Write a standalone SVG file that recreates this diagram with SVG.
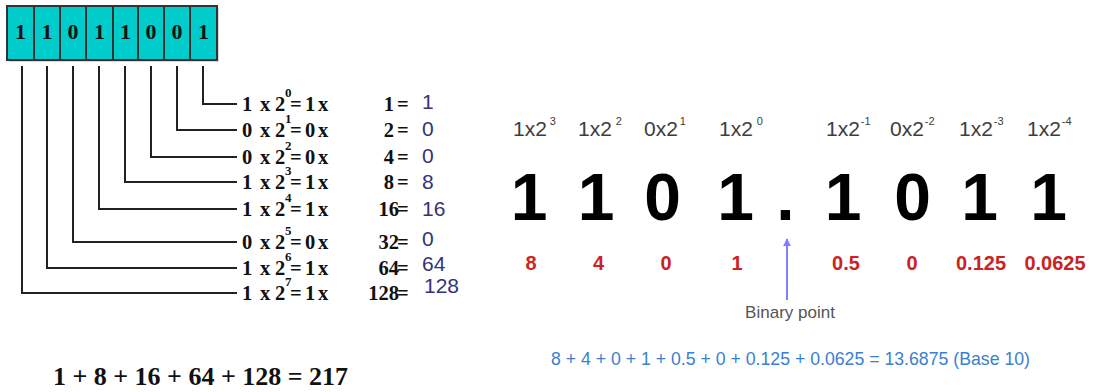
<svg xmlns="http://www.w3.org/2000/svg" width="1097" height="392" viewBox="0 0 1097 392">
<style>
.tb{font-family:"Liberation Serif","Times New Roman",serif;font-weight:bold;fill:#111;}
.row{font-size:20.5px;}
.sup{font-size:13px;}
.val{font-family:"Liberation Sans",Arial,sans-serif;font-weight:normal;font-size:21px;fill:#33337a;}
.cell{fill:#00cccc;stroke:#333;stroke-width:2;}
.bit{font-family:"Liberation Serif","Times New Roman",serif;font-weight:bold;font-size:22px;fill:#111;text-anchor:middle;}
.conn path{fill:none;stroke:#222;stroke-width:2;}
.lbl{font-family:"Liberation Sans",Arial,sans-serif;font-size:21px;fill:#3d3d3d;}
.lsup{font-size:11px;}
.big{font-family:"Liberation Sans",Arial,sans-serif;font-weight:bold;font-size:66px;fill:#000;text-anchor:middle;}
.red{font-family:"Liberation Sans",Arial,sans-serif;font-weight:bold;font-size:20px;fill:#cc2222;text-anchor:middle;}
.gray{font-family:"Liberation Sans",Arial,sans-serif;font-size:17px;fill:#555;text-anchor:middle;}
.blue{font-family:"Liberation Sans",Arial,sans-serif;font-size:18.5px;fill:#3a7fd0;}
</style>
<defs>
<marker id="ah" viewBox="0 0 10 10" refX="9" refY="5" markerWidth="4" markerHeight="4" orient="auto">
<path d="M0,0 L10,5 L0,10 z" fill="#7f7fff"/>
</marker>
</defs>

<g id="register">
<rect x="9" y="8" width="210" height="54" fill="#d8d8d8"/>
<rect class="cell" x="7" y="6" width="27" height="54"/>
<rect class="cell" x="34" y="6" width="26" height="54"/>
<rect class="cell" x="60" y="6" width="26" height="54"/>
<rect class="cell" x="86" y="6" width="27" height="54"/>
<rect class="cell" x="113" y="6" width="25" height="54"/>
<rect class="cell" x="138" y="6" width="26" height="54"/>
<rect class="cell" x="164" y="6" width="26" height="54"/>
<rect class="cell" x="190" y="6" width="27" height="54"/>
<text class="bit" x="20.5" y="39">1</text>
<text class="bit" x="47" y="39">1</text>
<text class="bit" x="73" y="39">0</text>
<text class="bit" x="99.5" y="39">1</text>
<text class="bit" x="125.5" y="39">1</text>
<text class="bit" x="151" y="39">0</text>
<text class="bit" x="177" y="39">0</text>
<text class="bit" x="203.5" y="39">1</text>
</g>

<g id="connectors" class="conn">
<path d="M203 66 V104 H237"/>
<path d="M177 66 V130 H237"/>
<path d="M151 66 V157 H237"/>
<path d="M125 66 V182 H237"/>
<path d="M99 66 V209 H237"/>
<path d="M73 66 V242 H237"/>
<path d="M47 66 V268 H237"/>
<path d="M22 66 V293 H237"/>
</g>

<g id="row0" class="tb row">
<text y="111"><tspan x="242">1</tspan><tspan x="260">x</tspan><tspan x="275">2</tspan></text>
<text class="sup" x="285" y="97">0</text>
<text y="111"><tspan x="290">=</tspan><tspan x="305">1</tspan><tspan x="318">x</tspan></text>
<text y="111" x="394" text-anchor="end">1</text>
<text y="111" x="397">=</text>
<text class="val" x="422" y="109">1</text>
</g>
<g id="row1" class="tb row">
<text y="137"><tspan x="242">0</tspan><tspan x="260">x</tspan><tspan x="275">2</tspan></text>
<text class="sup" x="285" y="123">1</text>
<text y="137"><tspan x="290">=</tspan><tspan x="305">0</tspan><tspan x="318">x</tspan></text>
<text y="137" x="394" text-anchor="end">2</text>
<text y="137" x="397">=</text>
<text class="val" x="422" y="136">0</text>
</g>
<g id="row2" class="tb row">
<text y="164"><tspan x="242">0</tspan><tspan x="260">x</tspan><tspan x="275">2</tspan></text>
<text class="sup" x="285" y="150">2</text>
<text y="164"><tspan x="290">=</tspan><tspan x="305">0</tspan><tspan x="318">x</tspan></text>
<text y="164" x="394" text-anchor="end">4</text>
<text y="164" x="397">=</text>
<text class="val" x="422" y="163">0</text>
</g>
<g id="row3" class="tb row">
<text y="189"><tspan x="242">1</tspan><tspan x="260">x</tspan><tspan x="275">2</tspan></text>
<text class="sup" x="285" y="175">3</text>
<text y="189"><tspan x="290">=</tspan><tspan x="305">1</tspan><tspan x="318">x</tspan></text>
<text y="189" x="394" text-anchor="end">8</text>
<text y="189" x="397">=</text>
<text class="val" x="422" y="189">8</text>
</g>
<g id="row4" class="tb row">
<text y="216"><tspan x="242">1</tspan><tspan x="260">x</tspan><tspan x="275">2</tspan></text>
<text class="sup" x="285" y="202">4</text>
<text y="216"><tspan x="290">=</tspan><tspan x="305">1</tspan><tspan x="318">x</tspan></text>
<text y="216" x="399" text-anchor="end">16</text>
<text y="216" x="397">=</text>
<text class="val" x="422" y="216">16</text>
</g>
<g id="row5" class="tb row">
<text y="249"><tspan x="242">0</tspan><tspan x="260">x</tspan><tspan x="275">2</tspan></text>
<text class="sup" x="285" y="235">5</text>
<text y="249"><tspan x="290">=</tspan><tspan x="305">0</tspan><tspan x="318">x</tspan></text>
<text y="249" x="399" text-anchor="end">32</text>
<text y="249" x="397">=</text>
<text class="val" x="422" y="246">0</text>
</g>
<g id="row6" class="tb row">
<text y="275"><tspan x="242">1</tspan><tspan x="260">x</tspan><tspan x="275">2</tspan></text>
<text class="sup" x="285" y="261">6</text>
<text y="275"><tspan x="290">=</tspan><tspan x="305">1</tspan><tspan x="318">x</tspan></text>
<text y="275" x="399" text-anchor="end">64</text>
<text y="275" x="397">=</text>
<text class="val" x="422" y="271">64</text>
</g>
<g id="row7" class="tb row">
<text y="300"><tspan x="242">1</tspan><tspan x="260">x</tspan><tspan x="275">2</tspan></text>
<text class="sup" x="285" y="286">7</text>
<text y="300"><tspan x="290">=</tspan><tspan x="305">1</tspan><tspan x="318">x</tspan></text>
<text y="300" x="399" text-anchor="end">128</text>
<text y="300" x="397">=</text>
<text class="val" x="424" y="293">128</text>
</g>

<g id="sum-left" class="tb">
<text x="53" y="385" font-size="25" textLength="295" lengthAdjust="spacingAndGlyphs">1 + 8 + 16 + 64 + 128 = 217</text>
</g>

<g id="weights" class="lbl">
<text x="513" y="136">1x2<tspan class="lsup" dx="3" dy="-11">3</tspan></text>
<text x="578" y="136">1x2<tspan class="lsup" dx="4" dy="-11">2</tspan></text>
<text x="644" y="136">0x2<tspan class="lsup" dx="2" dy="-11">1</tspan></text>
<text x="719" y="136">1x2<tspan class="lsup" dx="4" dy="-11">0</tspan></text>
<text x="826" y="136">1x2<tspan class="lsup" dx="1" dy="-11">-1</tspan></text>
<text x="890" y="136">0x2<tspan class="lsup" dx="1" dy="-11">-2</tspan></text>
<text x="959" y="136">1x2<tspan class="lsup" dx="1" dy="-11">-3</tspan></text>
<text x="1027" y="136">1x2<tspan class="lsup" dx="1" dy="-11">-4</tspan></text>
</g>

<g id="digits">
<text class="big" x="529" y="220">1</text>
<text class="big" x="596" y="220">1</text>
<text class="big" x="662.5" y="220">0</text>
<text class="big" x="735.5" y="220">1</text>
<text class="big" x="785.5" y="220">.</text>
<text class="big" x="843" y="220">1</text>
<text class="big" x="912.5" y="220">0</text>
<text class="big" x="979.5" y="220">1</text>
<text class="big" x="1048.5" y="220">1</text>
</g>

<g id="values">
<text class="red" x="531" y="270">8</text>
<text class="red" x="598.5" y="270">4</text>
<text class="red" x="666" y="270">0</text>
<text class="red" x="737" y="270">1</text>
<text class="red" x="846" y="270">0.5</text>
<text class="red" x="912" y="270">0</text>
<text class="red" x="981" y="270">0.125</text>
<text class="red" x="1055" y="270">0.0625</text>
</g>

<g id="connectors-arrow">
<line x1="787" y1="300" x2="787" y2="239" stroke="#7f7fff" stroke-width="2" marker-end="url(#ah)"/>
</g>

<g id="binary-point-label">
<text class="gray" x="790" y="318">Binary point</text>
</g>

<g id="sum-right">
<text class="blue" x="551" y="365" textLength="479" lengthAdjust="spacingAndGlyphs">8 + 4 + 0 + 1 + 0.5 + 0 + 0.125 + 0.0625 = 13.6875 (Base 10)</text>
</g>
</svg>
